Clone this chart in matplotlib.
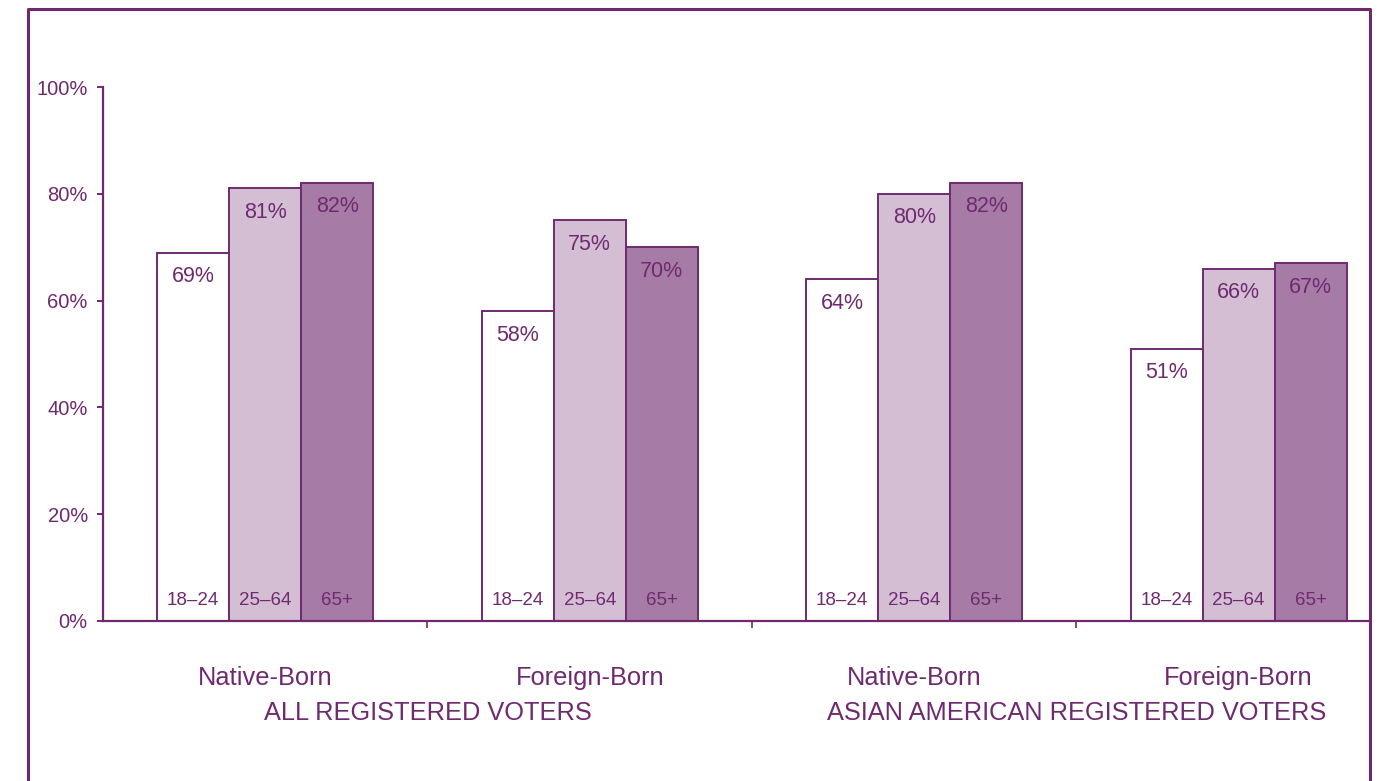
import matplotlib.pyplot as plt
from matplotlib.lines import Line2D
import numpy as np

plt.rcParams['font.family'] = ['Liberation Sans', 'DejaVu Sans']

# registration rates by age group, in %
groups = ["Native-Born", "Foreign-Born", "Native-Born", "Foreign-Born"]
age_groups = ["18\u201324", "25\u201364", "65+"]
young = [69, 58, 64, 51]
middle = [81, 75, 80, 66]
older = [82, 70, 82, 67]
panels = ["ALL REGISTERED VOTERS", "ASIAN AMERICAN REGISTERED VOTERS"]
y_ticks = [0, 20, 40, 60, 80, 100]

purple = "#6f2a6f"
fills = ["white", "#d4bed4", "#a67ca6"]

fig = plt.figure(figsize=(13.85, 7.81), dpi=100)
ax = fig.add_axes([0.0744, 0.2049, 0.9148, 0.6837])

x = np.arange(len(groups)) + 0.5
w = 0.222
series = [young, middle, older]
for i, vals in enumerate(series):
    xs = x + (i - 1) * w
    ax.bar(xs, vals, width=w, color=fills[i], edgecolor=purple, linewidth=1.4, zorder=2)
    for xi, v in zip(xs, vals):
        ax.text(xi, v - 2.5, f"{v}%", ha="center", va="top", fontsize=15.5, color=purple)
        ax.text(xi, 3.9, age_groups[i], ha="center", va="center", fontsize=13.5, color=purple)

ax.set_xlim(0, 3.905)
ax.set_ylim(0, 100)
ax.set_yticks(y_ticks)
ax.set_yticklabels([f"{t}%" for t in y_ticks])
ax.set_xticks([1, 2, 3])
ax.set_xticklabels([])
ax.tick_params(axis="y", direction="out", length=4, width=1.4, colors=purple,
               labelsize=14.5, labelcolor=purple, pad=7)
ax.tick_params(axis="x", direction="out", length=5, width=1.2, colors=purple)
for s in ["top", "right"]:
    ax.spines[s].set_visible(False)
for s in ["left", "bottom"]:
    ax.spines[s].set_color(purple)
    ax.spines[s].set_linewidth(1.6)

# group names and panel titles below the axis
for xi, g in zip(x, groups):
    ax.text(xi, -10.6, g, ha="center", va="center", fontsize=18.3, color=purple)
ax.text(1.0, -17.3, panels[0], ha="center", va="center", fontsize=18.3, color=purple)
ax.text(3.0, -17.3, panels[1], ha="center", va="center", fontsize=18.3, color=purple)

# outer frame (bottom edge runs off the page)
W, H = 1385, 781
fx = [28 / W, 28 / W, 1370 / W, 1370 / W]
fy = [-0.01, 1 - 9 / H, 1 - 9 / H, -0.01]
fig.add_artist(Line2D(fx, fy, color=purple, linewidth=2.2, transform=fig.transFigure))

fig.savefig("out.png", dpi=100)
